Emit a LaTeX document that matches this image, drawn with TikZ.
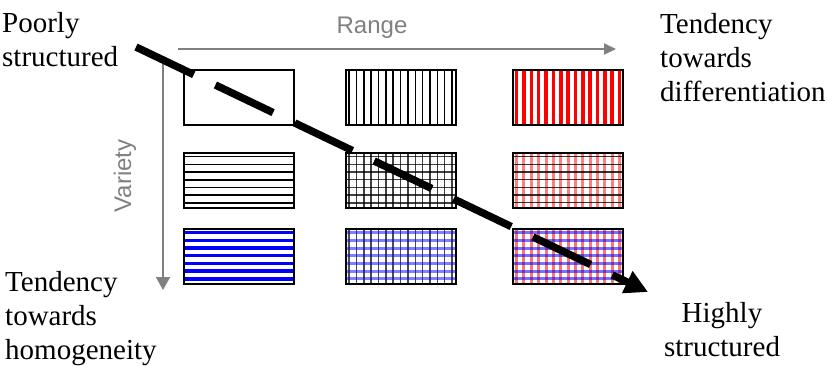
\documentclass[tikz,border=0pt]{standalone}
\usepackage{fontspec}
\setmainfont{Liberation Serif}
\newfontfamily\arialf{Liberation Sans}
\usetikzlibrary{arrows.meta}
\definecolor{axisgray}{RGB}{128,128,128}
\definecolor{pred}{RGB}{255,0,0}
\definecolor{pblue}{RGB}{0,0,255}
\newcommand{\patlines}[6]{%
  \foreach \k in {0,...,15}{\draw[#1,line width=#2,opacity=#3] ([xshift=\k*7.35pt+3.6pt]path picture bounding box.north west) -- ([xshift=\k*7.35pt+3.6pt]path picture bounding box.south west);}%
  \foreach \k in {0,...,7}{\draw[#4,line width=#5,opacity=#6] ([yshift=-\k*7.7pt-3.6pt]path picture bounding box.north west) -- ([yshift=-\k*7.7pt-3.6pt]path picture bounding box.north east);}%
}
\tikzset{
  cellbox/.style={draw=black, line width=2pt, minimum width=110pt, minimum height=55pt, inner sep=0pt, fill=white},
  cellpat/.style n args={6}{path picture={\patlines{#1}{#2}{#3}{#4}{#5}{#6}}},
  lbl/.style={font=\fontsize{29}{34}\selectfont, inner sep=0pt},
  axlbl/.style={font=\arialf\fontsize{24}{28}\selectfont, text=axisgray, inner sep=0pt},
  axarrow/.style={draw=axisgray, line width=2pt, -{Triangle[length=12pt,width=11pt]}},
  bigarrow/.style={draw=black, line width=7.5pt, dash pattern=on 64pt off 24pt, -{Triangle[length=23pt,width=23pt]}},
}
\begin{document}
\begin{tikzpicture}[x=1pt,y=-1pt]
\useasboundingbox (0,0) rectangle (827,365);
% cells
\node[cellbox, line width=1.5pt] (c11) at (239,97.5) {};
\node[cellbox, cellpat={black}{1.5pt}{1}{white}{0pt}{0}] (c12) at (400.5,97.5) {};
\node[cellbox, cellpat={pred}{3.6pt}{1}{white}{0pt}{0}] (c13) at (568,97.5) {};
\node[cellbox, cellpat={white}{0pt}{0}{black}{1.6pt}{1}] (c21) at (239,180.5) {};
\node[cellbox, cellpat={black}{1.5pt}{.75}{black}{1.5pt}{.75}] (c22) at (400.5,180.5) {};
\node[cellbox, cellpat={pred}{3pt}{.5}{black}{1.3pt}{.8}] (c23) at (568,180.5) {};
\node[cellbox, cellpat={white}{0pt}{0}{pblue}{3.4pt}{1}] (c31) at (239,256.5) {};
\node[cellbox, cellpat={black}{1.5pt}{.7}{pblue}{3pt}{.5}] (c32) at (400.5,256.5) {};
\node[cellbox, cellpat={pred}{3pt}{.55}{pblue}{3pt}{.55}] (c33) at (568,256.5) {};
% axes
\coordinate (rangeS) at (178,49);
\coordinate (rangeE) at (616,49);
\draw[axarrow] (rangeS) -- (rangeE);
\node[axlbl, anchor=base] (range) at (372,33) {Range};
\coordinate (varS) at (163,62);
\coordinate (varE) at (163,290);
\draw[axarrow, -{Triangle[length=13pt,width=14pt]}] (varS) -- (varE);
\node[axlbl, rotate=90] (variety) at (125,176) {Variety};
% corner texts
\node[lbl, anchor=base west] (tl1) at (2,32) {Poorly};
\node[lbl, anchor=base west] (tl2) at (2,66) {structured};
\node[lbl, anchor=base west] (tr1) at (660,33) {Tendency};
\node[lbl, anchor=base west] (tr2) at (660,67) {towards};
\node[lbl, anchor=base west] (tr3) at (660,101) {differentiation};
\node[lbl, anchor=base west] (bl1) at (5,291) {Tendency};
\node[lbl, anchor=base west] (bl2) at (5,325) {towards};
\node[lbl, anchor=base west] (bl3) at (5,359) {homogeneity};
\node[lbl, anchor=base] (br1) at (722,322) {Highly};
\node[lbl, anchor=base] (br2) at (722,356) {structured};
% diagonal
\coordinate (diagS) at (136,47);
\coordinate (diagE) at (648,292);
\draw[bigarrow] (diagS) -- (diagE);
\end{tikzpicture}
\end{document}
